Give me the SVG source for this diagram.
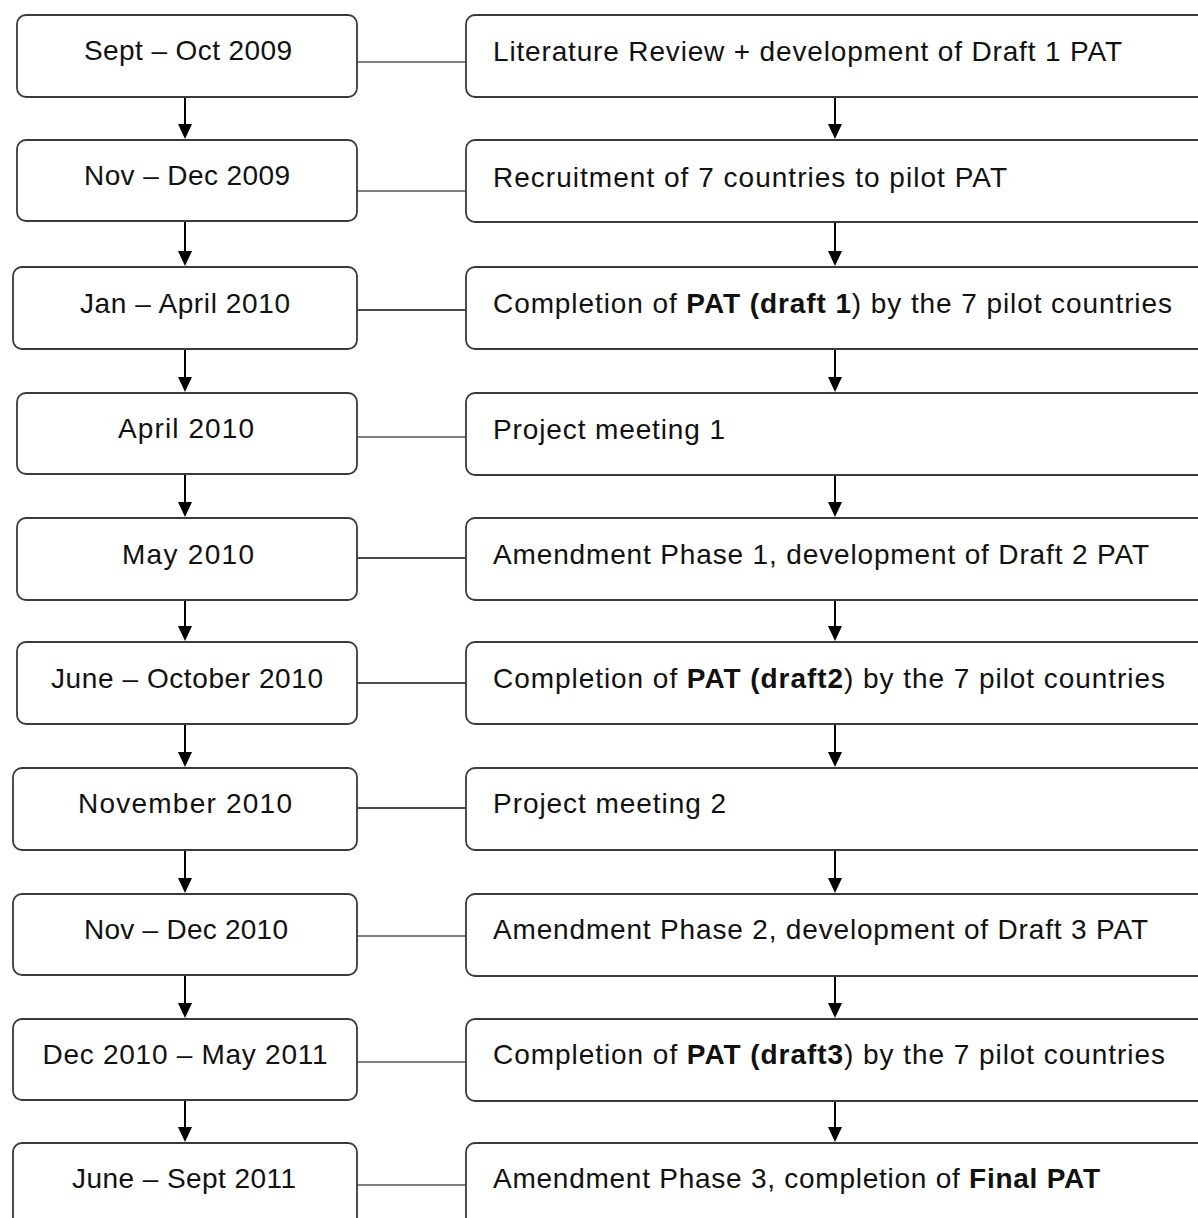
<svg xmlns="http://www.w3.org/2000/svg" width="1198" height="1218" viewBox="0 0 1198 1218">
<style>
.box{fill:#fff;stroke:#3a3a3a;stroke-width:1.8}
.t{font-family:"Liberation Sans",Arial,sans-serif;font-size:28px;fill:#111}
.c{text-anchor:middle}
.b{font-weight:bold}
.lk{stroke:#111;stroke-width:1.6;fill:none}
.lg{stroke:#808080;stroke-width:1.8;fill:none}
.ar{stroke:#000;stroke-width:2;fill:none}
.ah{fill:#000}
</style>
<g id="connectors">
<line class="lg" x1="357" y1="62" x2="466" y2="62"/>
<line class="lg" x1="357" y1="191" x2="466" y2="191"/>
<line class="lk" x1="357" y1="310" x2="466" y2="310"/>
<line class="lg" x1="357" y1="437" x2="466" y2="437"/>
<line class="lk" x1="357" y1="558" x2="466" y2="558"/>
<line class="lk" x1="357" y1="683" x2="466" y2="683"/>
<line class="lk" x1="357" y1="808" x2="466" y2="808"/>
<line class="lg" x1="357" y1="936" x2="466" y2="936"/>
<line class="lg" x1="357" y1="1062" x2="466" y2="1062"/>
<line class="lg" x1="357" y1="1185" x2="466" y2="1185"/>
<g id="arrows-left">
<line class="ar" x1="185" y1="97" x2="185" y2="126"/><path class="ah" d="M178,124 L192,124 L185,139 Z"/>
<line class="ar" x1="185" y1="221" x2="185" y2="253"/><path class="ah" d="M178,251 L192,251 L185,266 Z"/>
<line class="ar" x1="185" y1="349" x2="185" y2="379"/><path class="ah" d="M178,377 L192,377 L185,392 Z"/>
<line class="ar" x1="185" y1="474" x2="185" y2="504"/><path class="ah" d="M178,502 L192,502 L185,517 Z"/>
<line class="ar" x1="185" y1="600" x2="185" y2="628"/><path class="ah" d="M178,626 L192,626 L185,641 Z"/>
<line class="ar" x1="185" y1="724" x2="185" y2="754"/><path class="ah" d="M178,752 L192,752 L185,767 Z"/>
<line class="ar" x1="185" y1="850" x2="185" y2="880"/><path class="ah" d="M178,878 L192,878 L185,893 Z"/>
<line class="ar" x1="185" y1="975" x2="185" y2="1005"/><path class="ah" d="M178,1003 L192,1003 L185,1018 Z"/>
<line class="ar" x1="185" y1="1100" x2="185" y2="1129"/><path class="ah" d="M178,1127 L192,1127 L185,1142 Z"/>
</g>
<g id="arrows-right">
<line class="ar" x1="835" y1="97" x2="835" y2="126"/><path class="ah" d="M828,124 L842,124 L835,139 Z"/>
<line class="ar" x1="835" y1="221" x2="835" y2="253"/><path class="ah" d="M828,251 L842,251 L835,266 Z"/>
<line class="ar" x1="835" y1="349" x2="835" y2="379"/><path class="ah" d="M828,377 L842,377 L835,392 Z"/>
<line class="ar" x1="835" y1="474" x2="835" y2="504"/><path class="ah" d="M828,502 L842,502 L835,517 Z"/>
<line class="ar" x1="835" y1="600" x2="835" y2="628"/><path class="ah" d="M828,626 L842,626 L835,641 Z"/>
<line class="ar" x1="835" y1="724" x2="835" y2="754"/><path class="ah" d="M828,752 L842,752 L835,767 Z"/>
<line class="ar" x1="835" y1="850" x2="835" y2="880"/><path class="ah" d="M828,878 L842,878 L835,893 Z"/>
<line class="ar" x1="835" y1="975" x2="835" y2="1005"/><path class="ah" d="M828,1003 L842,1003 L835,1018 Z"/>
<line class="ar" x1="835" y1="1100" x2="835" y2="1129"/><path class="ah" d="M828,1127 L842,1127 L835,1142 Z"/>
</g>
</g>
<g id="d1"><rect class="box" x="17" y="15" width="340" height="82" rx="9"/><text class="t c" x="188" y="60" textLength="208" lengthAdjust="spacing">Sept – Oct 2009</text></g>
<g id="a1"><rect class="box" x="466" y="15" width="760" height="82" rx="9"/><text class="t" x="493" y="61" textLength="629" lengthAdjust="spacing">Literature Review + development of Draft 1 PAT</text></g>
<g id="d2"><rect class="box" x="17" y="140" width="340" height="81" rx="9"/><text class="t c" x="187" y="185" textLength="206" lengthAdjust="spacing">Nov – Dec 2009</text></g>
<g id="a2"><rect class="box" x="466" y="140" width="760" height="82" rx="9"/><text class="t" x="493" y="187" textLength="514" lengthAdjust="spacing">Recruitment of 7 countries to pilot PAT</text></g>
<g id="d3"><rect class="box" x="13" y="267" width="344" height="82" rx="9"/><text class="t c" x="185" y="313" textLength="210" lengthAdjust="spacing">Jan – April 2010</text></g>
<g id="a3"><rect class="box" x="466" y="267" width="760" height="82" rx="9"/><text class="t" x="493" y="313" textLength="679" lengthAdjust="spacing">Completion of <tspan class="b">PAT (draft 1</tspan>) by the 7 pilot countries</text></g>
<g id="d4"><rect class="box" x="17" y="393" width="340" height="81" rx="9"/><text class="t c" x="186" y="438" textLength="136" lengthAdjust="spacing">April 2010</text></g>
<g id="a4"><rect class="box" x="466" y="393" width="760" height="82" rx="9"/><text class="t" x="493" y="439" textLength="232" lengthAdjust="spacing">Project meeting 1</text></g>
<g id="d5"><rect class="box" x="17" y="518" width="340" height="82" rx="9"/><text class="t c" x="188" y="564" textLength="132" lengthAdjust="spacing">May 2010</text></g>
<g id="a5"><rect class="box" x="466" y="518" width="760" height="82" rx="9"/><text class="t" x="493" y="564" textLength="656" lengthAdjust="spacing">Amendment Phase 1, development of Draft 2 PAT</text></g>
<g id="d6"><rect class="box" x="17" y="642" width="340" height="82" rx="9"/><text class="t c" x="187" y="688" textLength="272" lengthAdjust="spacing">June – October 2010</text></g>
<g id="a6"><rect class="box" x="466" y="642" width="760" height="82" rx="9"/><text class="t" x="493" y="688" textLength="672" lengthAdjust="spacing">Completion of <tspan class="b">PAT (draft2</tspan>) by the 7 pilot countries</text></g>
<g id="d7"><rect class="box" x="13" y="768" width="344" height="82" rx="9"/><text class="t c" x="185" y="813" textLength="214" lengthAdjust="spacing">November 2010</text></g>
<g id="a7"><rect class="box" x="466" y="768" width="760" height="82" rx="9"/><text class="t" x="493" y="813" textLength="233" lengthAdjust="spacing">Project meeting 2</text></g>
<g id="d8"><rect class="box" x="13" y="894" width="344" height="81" rx="9"/><text class="t c" x="186" y="939" textLength="204" lengthAdjust="spacing">Nov – Dec 2010</text></g>
<g id="a8"><rect class="box" x="466" y="894" width="760" height="82" rx="9"/><text class="t" x="493" y="939" textLength="655" lengthAdjust="spacing">Amendment Phase 2, development of Draft 3 PAT</text></g>
<g id="d9"><rect class="box" x="13" y="1019" width="344" height="81" rx="9"/><text class="t c" x="185" y="1064" textLength="285" lengthAdjust="spacing">Dec 2010 – May 2011</text></g>
<g id="a9"><rect class="box" x="466" y="1019" width="760" height="82" rx="9"/><text class="t" x="493" y="1064" textLength="672" lengthAdjust="spacing">Completion of <tspan class="b">PAT (draft3</tspan>) by the 7 pilot countries</text></g>
<g id="d10"><rect class="box" x="13" y="1143" width="344" height="90" rx="9"/><text class="t c" x="184" y="1188" textLength="224" lengthAdjust="spacing">June – Sept 2011</text></g>
<g id="a10"><rect class="box" x="466" y="1143" width="760" height="90" rx="9"/><text class="t" x="493" y="1188" textLength="607" lengthAdjust="spacing">Amendment Phase 3, completion of <tspan class="b">Final PAT</tspan></text></g>
</svg>
